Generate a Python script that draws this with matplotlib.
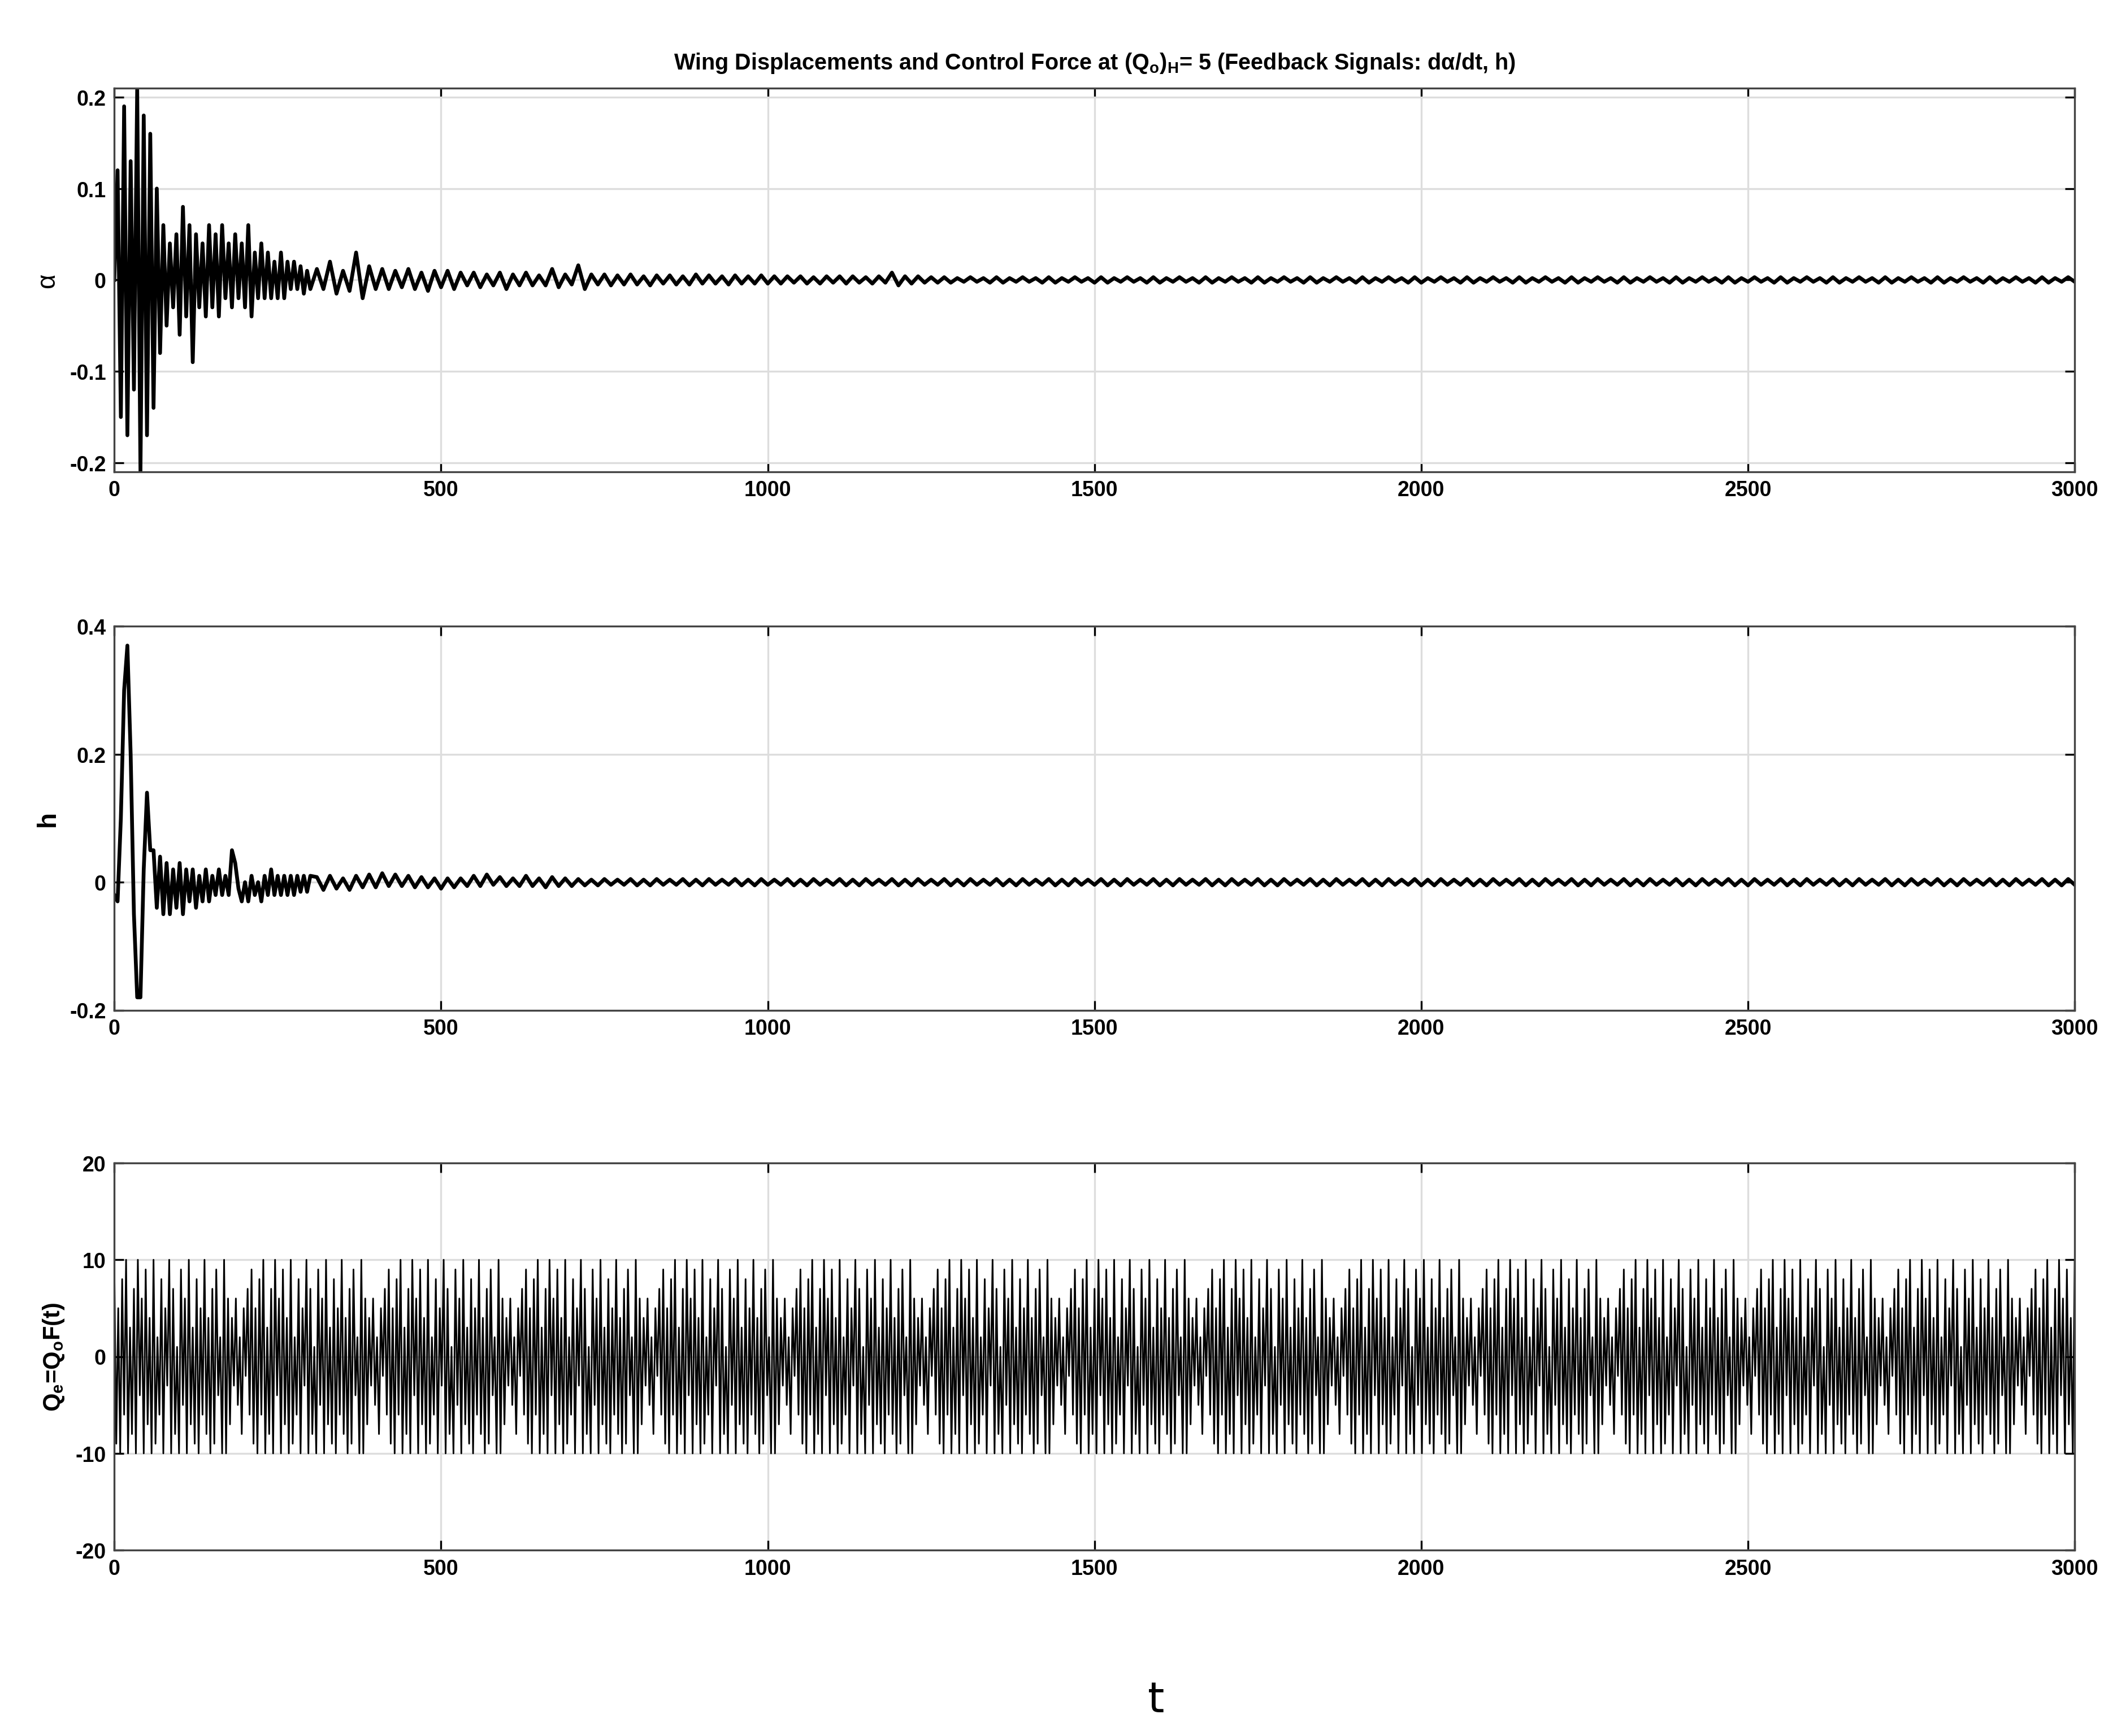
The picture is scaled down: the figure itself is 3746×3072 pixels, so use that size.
import numpy as np
import matplotlib.pyplot as plt

plt.rcParams['font.family'] = ['Liberation Sans Narrow', 'Liberation Sans', 'DejaVu Sans']
plt.rcParams['font.weight'] = 'bold'
plt.rcParams['mathtext.default'] = 'regular'

# alpha: dense early part (step 5 up to 300), then sparse tail (step 10)
alpha_t_early = list(range(0, 305, 5))
alpha_early = [0.0, 0.12, -0.15, 0.19, -0.17, 0.13, -0.12, 0.21, -0.21, 0.18, -0.17, 0.16,
               -0.14, 0.10, -0.08, 0.06, -0.05, 0.04, -0.03, 0.05, -0.06, 0.08, -0.04, 0.06,
               -0.09, 0.05, -0.03, 0.04, -0.04, 0.06, -0.03, 0.05, -0.04, 0.06, -0.02, 0.04,
               -0.03, 0.05, -0.02, 0.04, -0.03, 0.06, -0.04, 0.03, -0.02, 0.04, -0.02, 0.03,
               -0.02, 0.02, -0.02, 0.03, -0.02, 0.02, -0.01, 0.02, -0.01, 0.015, -0.015, 0.01, -0.01]
alpha_t_late = list(range(310, 3001, 10))
alpha_late = ([0.012, -0.01, 0.02, -0.015, 0.01, -0.012, 0.03, -0.02, 0.015, -0.01, 0.012, -0.01,
               0.01, -0.008, 0.012, -0.01, 0.008, -0.012, 0.01, -0.008, 0.01, -0.01, 0.008, -0.006,
               0.008, -0.008, 0.006, -0.006, 0.008, -0.01, 0.006, -0.006, 0.008, -0.006, 0.005, -0.006,
               0.012, -0.008, 0.006, -0.005, 0.016, -0.01, 0.006, -0.005, 0.006, -0.006, 0.005, -0.005,
               0.006, -0.005, 0.004, -0.006, 0.005, -0.004, 0.005, -0.005, 0.004, -0.005, 0.006, -0.004,
               0.005, -0.004, 0.004, -0.005, 0.005, -0.004, 0.004, -0.004, 0.005, -0.004, 0.004, -0.004,
               0.004, -0.003, 0.004, -0.004, 0.003, -0.004, 0.004, -0.003, 0.004, -0.004, 0.004, -0.003,
               0.003, -0.004, 0.004, -0.003, 0.008, -0.006, 0.004, -0.004, 0.004, -0.003, 0.003, -0.003] +
              [0.003, -0.003, 0.002, -0.002, 0.003, -0.002, 0.002, -0.003] * 23)[:len(alpha_t_late)]

# h: early transient (step 5), then small oscillation
h_t_early = list(range(0, 305, 5))
h_early = [-0.02, -0.03, 0.10, 0.30, 0.37, 0.20, -0.05, -0.18, -0.18, 0.02, 0.14, 0.05, 0.05,
           -0.04, 0.04, -0.05, 0.03, -0.05, 0.02, -0.04, 0.03, -0.05, 0.02, -0.03, 0.02, -0.04,
           0.01, -0.03, 0.02, -0.03, 0.01, -0.02, 0.02, -0.02, 0.01, -0.02, 0.05, 0.03, -0.01,
           -0.03, 0.0, -0.03, 0.01, -0.02, 0.0, -0.03, 0.01, -0.02, 0.02, -0.02, 0.01, -0.02,
           0.01, -0.02, 0.01, -0.02, 0.01, -0.015, 0.01, -0.015, 0.01]
h_t_late = list(range(310, 3001, 10))
h_late = ([0.008, -0.012, 0.01, -0.01, 0.006, -0.012, 0.01, -0.008, 0.012, -0.008, 0.014, -0.006,
           0.012, -0.006, 0.01, -0.008, 0.008, -0.008, 0.006, -0.01, 0.006, -0.008, 0.006, -0.006,
           0.01, -0.006, 0.012, -0.004, 0.008, -0.006, 0.006, -0.006, 0.01, -0.006, 0.006, -0.008,
           0.008, -0.006, 0.006, -0.006] +
          [0.005, -0.005, 0.004, -0.005, 0.005, -0.004, 0.004, -0.004] * 29)[:len(h_t_late)]

# control force Q_e: saturated at +/-10, step 3
q_t = list(range(0, 3001, 3))
q_pattern = [9, -9, 5, -10, 8, -6, 10, -10, 3, -8, 7, -10, 10, -4, 6, -10, 9, -7, 4, -10,
             10, -9, 2, -6, 8, -10, 5, -3, 10, -10, 7, -8, 1, -10, 9, -5, 6, -10, 10, -7,
             3, -9, 8, -10, 5, -6, 10, -8, 4, -10, 7, -9, 9, -4, 2, -10, 10, -10, 6, -7,
             4, -3, 6, -5, 2, -8, 5, -2, 7, -6]
q_vals = (q_pattern * 15)[:len(q_t)]

t_alpha = alpha_t_early + alpha_t_late
alpha = alpha_early + alpha_late
t_h = h_t_early + h_t_late
h = h_early + h_late

fig = plt.figure(figsize=(12.487, 10.243), dpi=300)
ax1 = fig.add_axes([0.054, 0.728, 0.926, 0.221])
ax2 = fig.add_axes([0.054, 0.418, 0.926, 0.221])
ax3 = fig.add_axes([0.054, 0.107, 0.926, 0.223])

ax1.plot(t_alpha, alpha, color='black', linewidth=1.6)
ax2.plot(t_h, h, color='black', linewidth=1.6)
ax3.plot(q_t, q_vals, color='black', linewidth=0.7)

ax1.set_ylim(-0.21, 0.21)
ax1.set_yticks([-0.2, -0.1, 0, 0.1, 0.2])
ax1.set_yticklabels(['-0.2', '-0.1', '0', '0.1', '0.2'])
ax2.set_ylim(-0.2, 0.4)
ax2.set_yticks([-0.2, 0, 0.2, 0.4])
ax2.set_yticklabels(['-0.2', '0', '0.2', '0.4'])
ax3.set_ylim(-20, 20)
ax3.set_yticks([-20, -10, 0, 10, 20])
ax3.set_yticklabels(['-20', '-10', '0', '10', '20'])

for ax in (ax1, ax2, ax3):
    ax.set_xlim(0, 3000)
    ax.set_xticks(range(0, 3001, 500))
    ax.grid(True, color='#dddddd', linewidth=0.8)
    ax.tick_params(direction='in', top=True, right=True, labelsize=9, length=4)
    for s in ax.spines.values():
        s.set_color('#444444')

ax1.set_ylabel('α', fontsize=11, fontweight='normal')
ax2.set_ylabel('h', fontsize=11, fontweight='bold')
ax3.set_ylabel(r'Q$_e$=Q$_o$F(t)', fontsize=10, fontweight='bold')
ax1.set_title(r'Wing Displacements and Control Force at (Q$_o$)$_H$= 5 (Feedback Signals: dα/dt, h)',
              fontsize=9.5, pad=8, fontweight='bold')
fig.text(0.546, 0.014, 't', fontsize=18, fontweight='normal', ha='center',
         family='DejaVu Sans')

plt.savefig('out.png', dpi=300)
